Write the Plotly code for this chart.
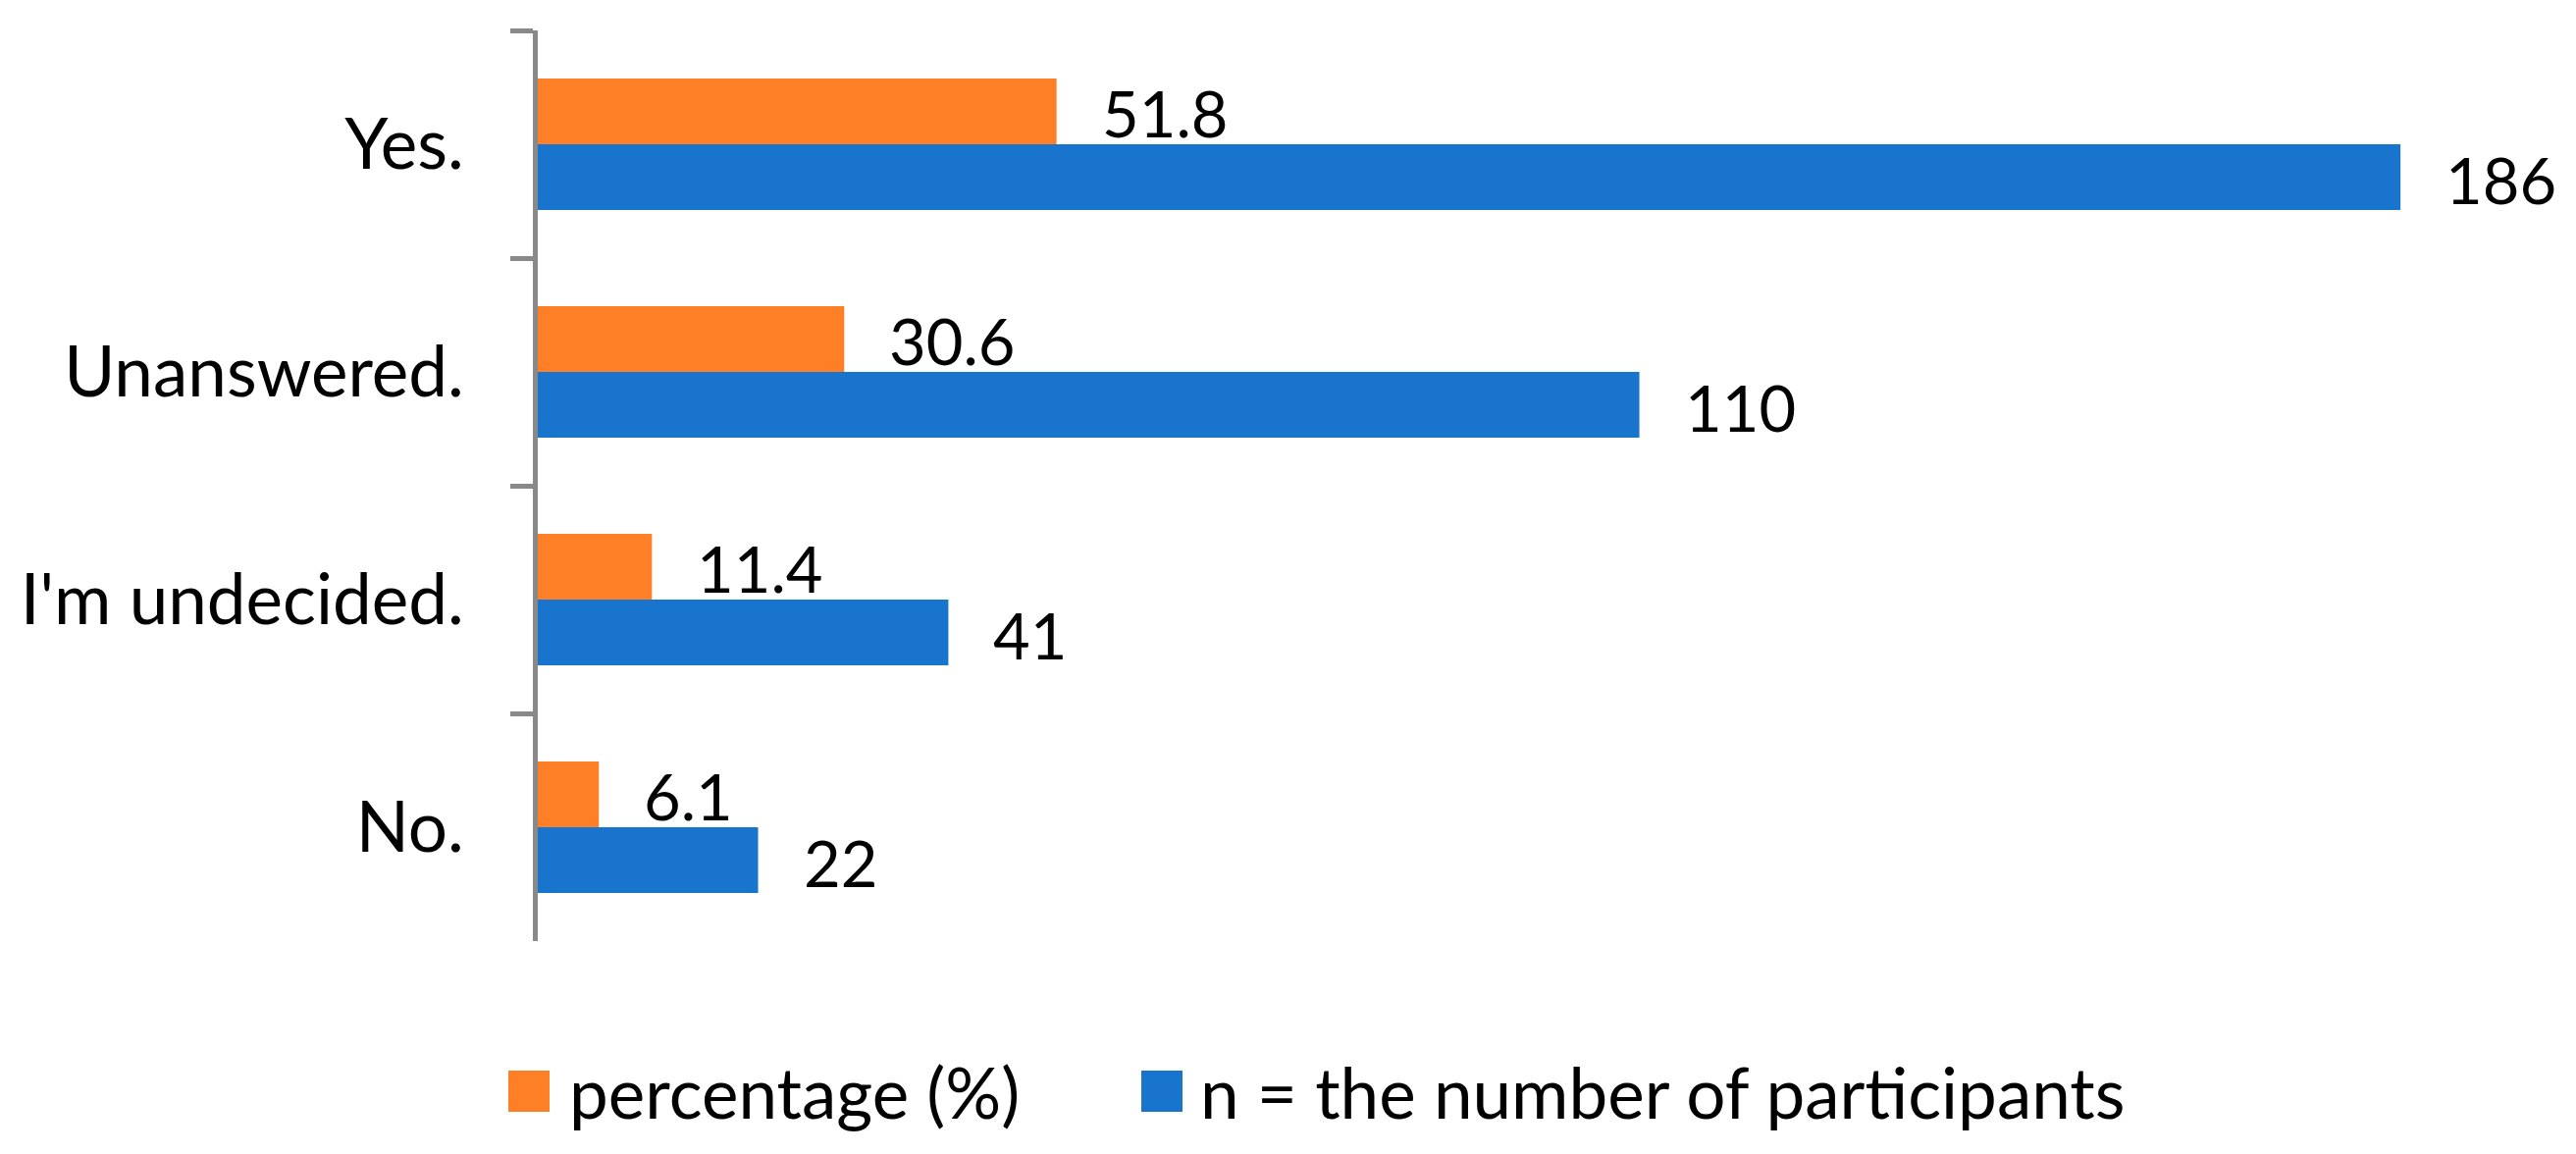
import plotly.graph_objects as go

# ---- data ----
categories = ["Yes.", "Unanswered.", "I'm undecided.", "No."]
percentage = [51.8, 30.6, 11.4, 6.1]
participants = [186, 110, 41, 22]
series_names = ["percentage (%)", "n = the number of participants"]

ORANGE = "#FF7F27"
BLUE = "#1874CD"
AXIS_GRAY = "#898989"
FONT = "Lato"

# page body has an 8px default margin; figure sized so it fits the window
W, H = 2609, 1160
ML, MR, MT, MB = 540, 28, 23, 209
PW = W - ML - MR
PH = H - MT - MB
BARGAP = 0.422
BAR_T = PH / len(categories) * (1 - BARGAP) / 2   # bar thickness in px
LABEL_GAP = 44


def px_x(p):
    return (p - ML) / PW


def px_y(p):
    return (H - MB - p) / PH


fig = go.Figure()
fig.add_trace(go.Bar(
    y=categories, x=percentage, orientation="h", name=series_names[0],
    marker=dict(color=ORANGE, line=dict(width=0)), showlegend=False,
))
fig.add_trace(go.Bar(
    y=categories, x=participants, orientation="h", name=series_names[1],
    marker=dict(color=BLUE, line=dict(width=0)), showlegend=False,
))

# value labels, placed at the end of each bar
for vals, shift in ((percentage, BAR_T / 2 - 2), (participants, -BAR_T / 2 - 2)):
    for cat, v in zip(categories, vals):
        fig.add_annotation(x=v, y=cat, xref="x", yref="y", text=f"{v}",
                           xanchor="left", yanchor="middle", showarrow=False,
                           xshift=LABEL_GAP, yshift=shift,
                           font=dict(family=FONT, size=65, color="black"))

fig.update_layout(
    width=W, height=H,
    margin=dict(l=ML, r=MR, t=MT, b=MB, autoexpand=False),
    paper_bgcolor="white", plot_bgcolor="white",
    barmode="group", bargap=BARGAP, bargroupgap=0,
    font=dict(family=FONT, size=71, color="black"),
    showlegend=False,
)
fig.update_xaxes(range=[0, 200], visible=False, showgrid=False, zeroline=False)
fig.update_yaxes(
    autorange=False, range=[3.5, -0.5], type="category",
    showline=True, linecolor=AXIS_GRAY, linewidth=5,
    ticks="outside", tickson="boundaries", ticklen=23, tickwidth=5, tickcolor=AXIS_GRAY,
    ticklabelstandoff=56,
    tickfont=dict(family=FONT, size=71, color="black"),
    showgrid=False, zeroline=False,
)

# ---- manual legend (large square swatches) ----
legend_items = [
    (series_names[0], ORANGE, 510, 570),
    (series_names[1], BLUE, 1155, 1213),
]
for name, col, sx, tx in legend_items:
    fig.add_shape(type="rect", xref="paper", yref="paper",
                  x0=px_x(sx), x1=px_x(sx + 42), y0=px_y(1125), y1=px_y(1083),
                  fillcolor=col, line=dict(width=0))
    fig.add_annotation(xref="paper", yref="paper", x=px_x(tx), y=px_y(1104),
                       xanchor="left", yanchor="middle", showarrow=False,
                       text=name, font=dict(family=FONT, size=71, color="black"))

fig.write_html("out.html")
